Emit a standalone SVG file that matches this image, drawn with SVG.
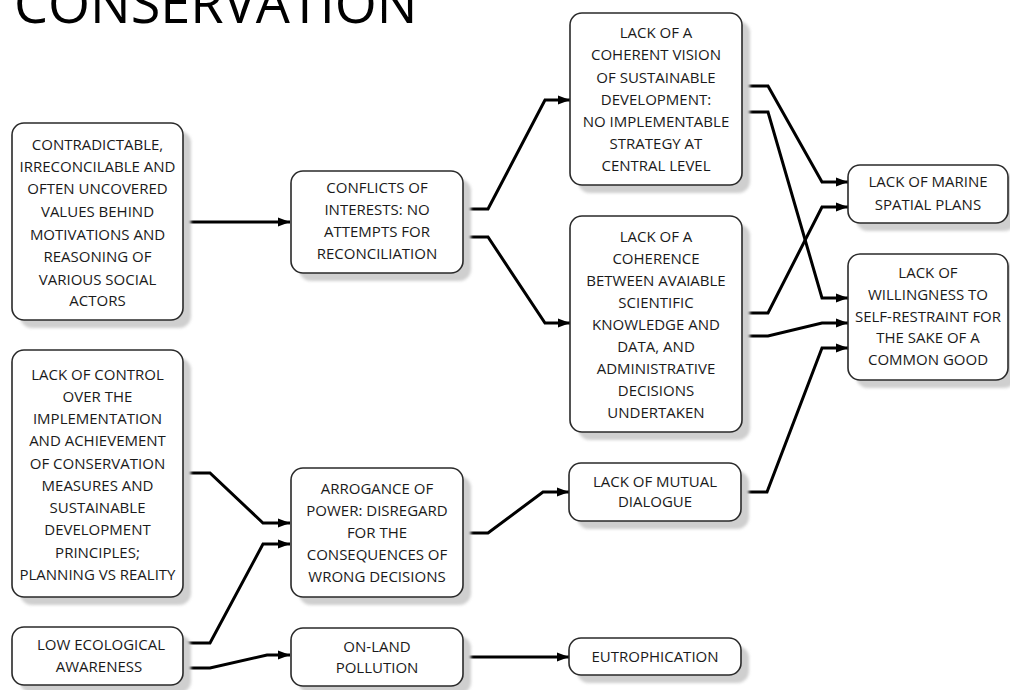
<svg xmlns="http://www.w3.org/2000/svg" width="1010" height="690" viewBox="0 0 1010 690">
<defs>
<filter id="blur" x="-10%" y="-10%" width="120%" height="120%"><feGaussianBlur stdDeviation="1.5"/></filter>
<marker id="arr" markerUnits="userSpaceOnUse" markerWidth="13" markerHeight="10" refX="12" refY="5" orient="auto"><path d="M0,0.5 L12,5 L0,9.5 z" fill="#000"/></marker>
</defs>
<style>
.sh{fill:#cfcfcf;filter:url(#blur)}
.bx{fill:#fff;stroke:#2a2a2a;stroke-width:1.6}
.t{font-family:"Open Sans","Noto Sans","DejaVu Sans",sans-serif;font-size:15px;fill:#1a1a1a;text-anchor:middle}
.c{fill:none;stroke:#000;stroke-width:3;marker-end:url(#arr)}
.title{font-family:"Open Sans","Noto Sans","DejaVu Sans",sans-serif;font-size:54px;fill:#000}
</style>
<rect width="1010" height="690" fill="#fff"/>
<text class="title" x="14" y="23">CONSERVATION</text>

<g id="connectors">
<path class="c" d="M183,222 H290"/>
<path class="c" d="M463,209 H488 L545,100 H570"/>
<path class="c" d="M463,237 H488 L545,323 H570"/>
<path class="c" d="M742,86 H768 L822,182 H848"/>
<path class="c" d="M742,112 H768 L822,298 H848"/>
<path class="c" d="M742,313 H768 L822,207 H848"/>
<path class="c" d="M742,336 H768 L822,323 H848"/>
<path class="c" d="M741,492 H767 L822,348 H848"/>
<path class="c" d="M183,473 H210 L263,523 H290"/>
<path class="c" d="M183,643 H210 L263,544 H290"/>
<path class="c" d="M183,668 H210 L267,655 H290"/>
<path class="c" d="M463,533 H488 L543,492 H569"/>
<path class="c" d="M463,657 H569"/>
</g>

<g id="nodeA">
<rect class="sh" x="20" y="131" width="171" height="197" rx="12"/>
<rect class="bx" x="12" y="123" width="171" height="197" rx="12"/>
<text class="t" x="97.5" y="150">CONTRADICTABLE,</text>
<text class="t" x="97.5" y="172">IRRECONCILABLE AND</text>
<text class="t" x="97.5" y="194">OFTEN UNCOVERED</text>
<text class="t" x="97.5" y="217">VALUES BEHIND</text>
<text class="t" x="97.5" y="240">MOTIVATIONS AND</text>
<text class="t" x="97.5" y="262">REASONING OF</text>
<text class="t" x="97.5" y="285">VARIOUS SOCIAL</text>
<text class="t" x="97.5" y="306">ACTORS</text>
</g>

<g id="nodeB">
<rect class="sh" x="299" y="179" width="172" height="102" rx="12"/>
<rect class="bx" x="291" y="171" width="172" height="102" rx="12"/>
<text class="t" x="377" y="193">CONFLICTS OF</text>
<text class="t" x="377" y="215">INTERESTS: NO</text>
<text class="t" x="377" y="237">ATTEMPTS FOR</text>
<text class="t" x="377" y="259">RECONCILIATION</text>
</g>

<g id="nodeC">
<rect class="sh" x="578" y="21" width="172" height="172" rx="12"/>
<rect class="bx" x="570" y="13" width="172" height="172" rx="12"/>
<text class="t" x="656" y="38">LACK OF A</text>
<text class="t" x="656" y="60">COHERENT VISION</text>
<text class="t" x="656" y="83">OF SUSTAINABLE</text>
<text class="t" x="656" y="105">DEVELOPMENT:</text>
<text class="t" x="656" y="127">NO IMPLEMENTABLE</text>
<text class="t" x="656" y="149">STRATEGY AT</text>
<text class="t" x="656" y="171">CENTRAL LEVEL</text>
</g>

<g id="nodeD">
<rect class="sh" x="578" y="224" width="172" height="216" rx="12"/>
<rect class="bx" x="570" y="216" width="172" height="216" rx="12"/>
<text class="t" x="656" y="242">LACK OF A</text>
<text class="t" x="656" y="264">COHERENCE</text>
<text class="t" x="656" y="286">BETWEEN AVAIABLE</text>
<text class="t" x="656" y="308">SCIENTIFIC</text>
<text class="t" x="656" y="330">KNOWLEDGE AND</text>
<text class="t" x="656" y="352">DATA, AND</text>
<text class="t" x="656" y="374">ADMINISTRATIVE</text>
<text class="t" x="656" y="396">DECISIONS</text>
<text class="t" x="656" y="418">UNDERTAKEN</text>
</g>

<g id="nodeE">
<rect class="sh" x="856" y="173" width="160" height="58" rx="12"/>
<rect class="bx" x="848" y="165" width="160" height="58" rx="12"/>
<text class="t" x="928" y="187">LACK OF MARINE</text>
<text class="t" x="928" y="210">SPATIAL PLANS</text>
</g>

<g id="nodeF">
<rect class="sh" x="856" y="262" width="160" height="126" rx="12"/>
<rect class="bx" x="848" y="254" width="160" height="126" rx="12"/>
<text class="t" x="928" y="278">LACK OF</text>
<text class="t" x="928" y="300">WILLINGNESS TO</text>
<text class="t" x="928" y="322">SELF-RESTRAINT FOR</text>
<text class="t" x="928" y="343">THE SAKE OF A</text>
<text class="t" x="928" y="365">COMMON GOOD</text>
</g>

<g id="nodeG">
<rect class="sh" x="20" y="358" width="171" height="247" rx="12"/>
<rect class="bx" x="12" y="350" width="171" height="247" rx="12"/>
<text class="t" x="97.5" y="380">LACK OF CONTROL</text>
<text class="t" x="97.5" y="402">OVER THE</text>
<text class="t" x="97.5" y="424">IMPLEMENTATION</text>
<text class="t" x="97.5" y="446">AND ACHIEVEMENT</text>
<text class="t" x="97.5" y="469">OF CONSERVATION</text>
<text class="t" x="97.5" y="491">MEASURES AND</text>
<text class="t" x="97.5" y="513">SUSTAINABLE</text>
<text class="t" x="97.5" y="535">DEVELOPMENT</text>
<text class="t" x="97.5" y="558">PRINCIPLES;</text>
<text class="t" x="97.5" y="580">PLANNING VS REALITY</text>
</g>

<g id="nodeH">
<rect class="sh" x="20" y="635" width="171" height="58" rx="12"/>
<rect class="bx" x="12" y="627" width="171" height="58" rx="12"/>
<text class="t" x="101" y="650">LOW ECOLOGICAL</text>
<text class="t" x="99" y="672">AWARENESS</text>
</g>

<g id="nodeI">
<rect class="sh" x="299" y="476" width="172" height="129" rx="12"/>
<rect class="bx" x="291" y="468" width="172" height="129" rx="12"/>
<text class="t" x="377" y="494">ARROGANCE OF</text>
<text class="t" x="377" y="516">POWER: DISREGARD</text>
<text class="t" x="377" y="538">FOR THE</text>
<text class="t" x="377" y="560">CONSEQUENCES OF</text>
<text class="t" x="377" y="582">WRONG DECISIONS</text>
</g>

<g id="nodeJ">
<rect class="sh" x="577" y="471" width="172" height="58" rx="12"/>
<rect class="bx" x="569" y="463" width="172" height="58" rx="12"/>
<text class="t" x="655" y="487">LACK OF MUTUAL</text>
<text class="t" x="655" y="507">DIALOGUE</text>
</g>

<g id="nodeK">
<rect class="sh" x="299" y="636" width="172" height="58" rx="12"/>
<rect class="bx" x="291" y="628" width="172" height="58" rx="12"/>
<text class="t" x="377" y="652">ON-LAND</text>
<text class="t" x="377" y="673">POLLUTION</text>
</g>

<g id="nodeL">
<rect class="sh" x="577" y="646" width="172" height="37" rx="12"/>
<rect class="bx" x="569" y="638" width="172" height="37" rx="12"/>
<text class="t" x="655" y="662">EUTROPHICATION</text>
</g>
</svg>
